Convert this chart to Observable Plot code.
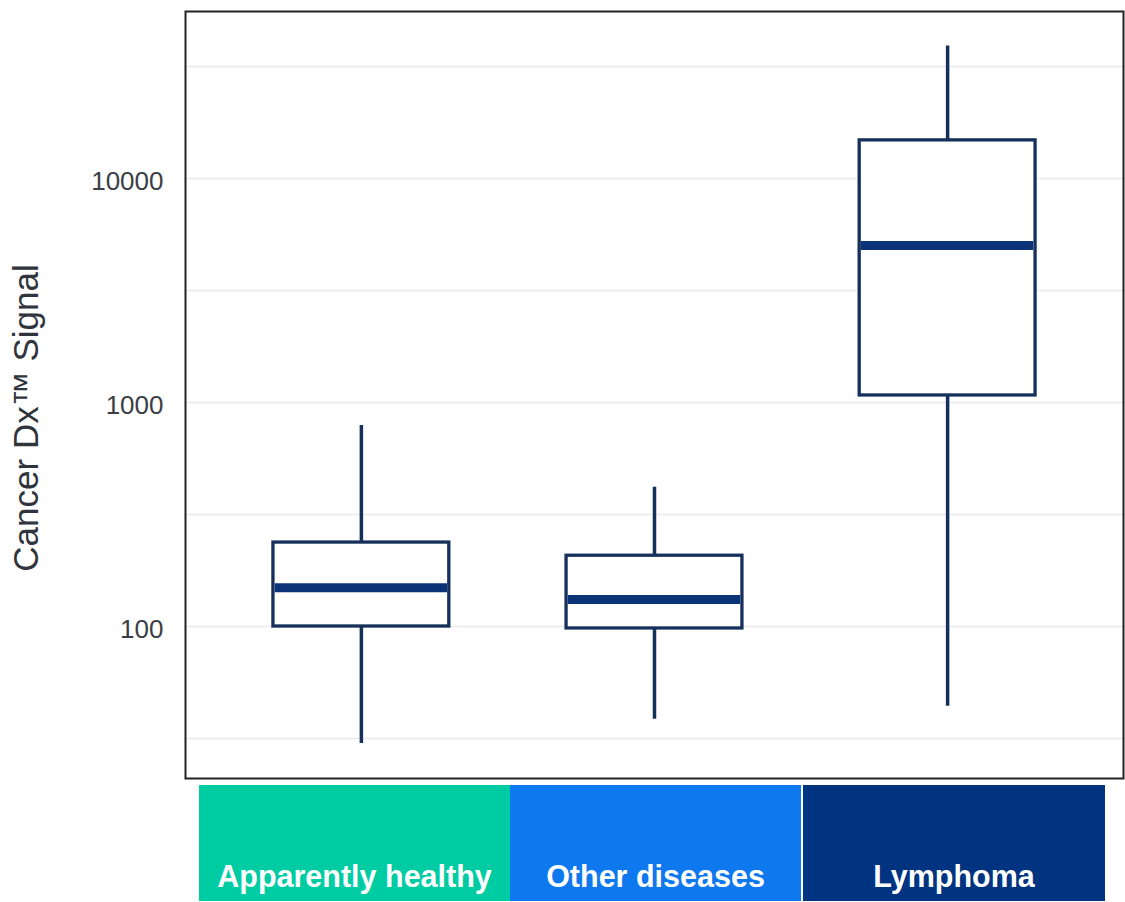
<!DOCTYPE html>
<html>
<head>
<meta charset="utf-8">
<script src="https://cdn.jsdelivr.net/npm/d3@7"></script>
<script src="https://cdn.jsdelivr.net/npm/@observablehq/plot@0.6"></script>
<style>
  html, body { margin: 0; padding: 0; background: #fff; }
  #wrap { position: relative; width: 1125px; height: 902px; font-family: "Liberation Sans", Arial, sans-serif; }
  #chart { position: absolute; left: 0; top: 0; }
  #ylabel { position: absolute; left: 25px; top: 418px; transform: translate(-50%, -50%) rotate(-90deg);
            font-size: 35px; line-height: 35px; color: #30343c; white-space: nowrap; }
  .cat { position: absolute; top: 785px; height: 116px; color: #fff; font-weight: bold; font-size: 30.5px;
         display: flex; align-items: flex-end; justify-content: center; box-sizing: border-box;
         padding-bottom: 9px; line-height: 31px; white-space: nowrap; }
</style>
</head>
<body>
<div id="wrap">
  <div id="chart"></div>
  <div id="ylabel"></div>
</div>
<script>
// Data
const categories = ["Apparently healthy", "Other diseases", "Lymphoma"];
const whiskerLow  = [30, 38.5, 44];
const q1Values    = [100, 98, 1075];
const medianVals  = [149, 132, 5020];
const q3Values    = [237, 207, 14800];
const whiskerHigh = [790, 418, 39000];
const catColors   = ["#00CCA3", "#0E78EF", "#003380"];
const yTicks      = [100, 1000, 10000];
const gridLines   = [31.62, 100, 316.2, 1000, 3162, 10000, 31623];
const yTitle      = "Cancer Dx\u2122 Signal";

const rows = categories.map((c, i) => ({
  cat: c, pos: i + 1,
  lo: whiskerLow[i], q1: q1Values[i], med: medianVals[i], q3: q3Values[i], hi: whiskerHigh[i]
}));

const boxStroke = "#15305a";
const medStroke = "#0b3478";

const chart = Plot.plot({
  width: 1125,
  height: 782,
  marginLeft: 185,
  marginRight: 2,
  marginTop: 11,
  marginBottom: 4,
  style: { fontFamily: "Liberation Sans, Arial, sans-serif", color: "#3a3d45", background: "#fff" },
  x: { type: "linear", domain: [0.4, 3.6], axis: null },
  y: { type: "log", domain: [20.96, 55670], axis: null },
  marks: [
    Plot.ruleY(gridLines, { stroke: "#ebebeb", strokeWidth: 1.5 }),
    Plot.axisY({ ticks: yTicks, tickFormat: d => String(d), tickSize: 0, tickPadding: 22,
                 fontSize: 26, label: null, dy: 3 }),
    Plot.ruleX(rows, { x: "pos", y1: "lo", y2: "hi", stroke: boxStroke, strokeWidth: 3.5 }),
    Plot.rect(rows, { x1: d => d.pos - 0.3, x2: d => d.pos + 0.3, y1: "q1", y2: "q3",
                      fill: "white", stroke: boxStroke, strokeWidth: 3.3 }),
    Plot.ruleY(rows, { y: "med", x1: d => d.pos - 0.3 + 0.006, x2: d => d.pos + 0.3 - 0.006,
                       stroke: medStroke, strokeWidth: 9 }),
    Plot.frame({ stroke: "#222", strokeWidth: 2 })
  ]
});
document.getElementById("chart").appendChild(chart);
document.getElementById("ylabel").textContent = yTitle;

// Category label boxes below the plot
const boxLeft  = [199, 510, 803];
const boxWidth = [311, 291, 302];
const wrap = document.getElementById("wrap");
categories.forEach((c, i) => {
  const d = document.createElement("div");
  d.className = "cat";
  d.style.left = boxLeft[i] + "px";
  d.style.width = boxWidth[i] + "px";
  d.style.background = catColors[i];
  d.textContent = c;
  wrap.appendChild(d);
});
</script>
</body>
</html>
